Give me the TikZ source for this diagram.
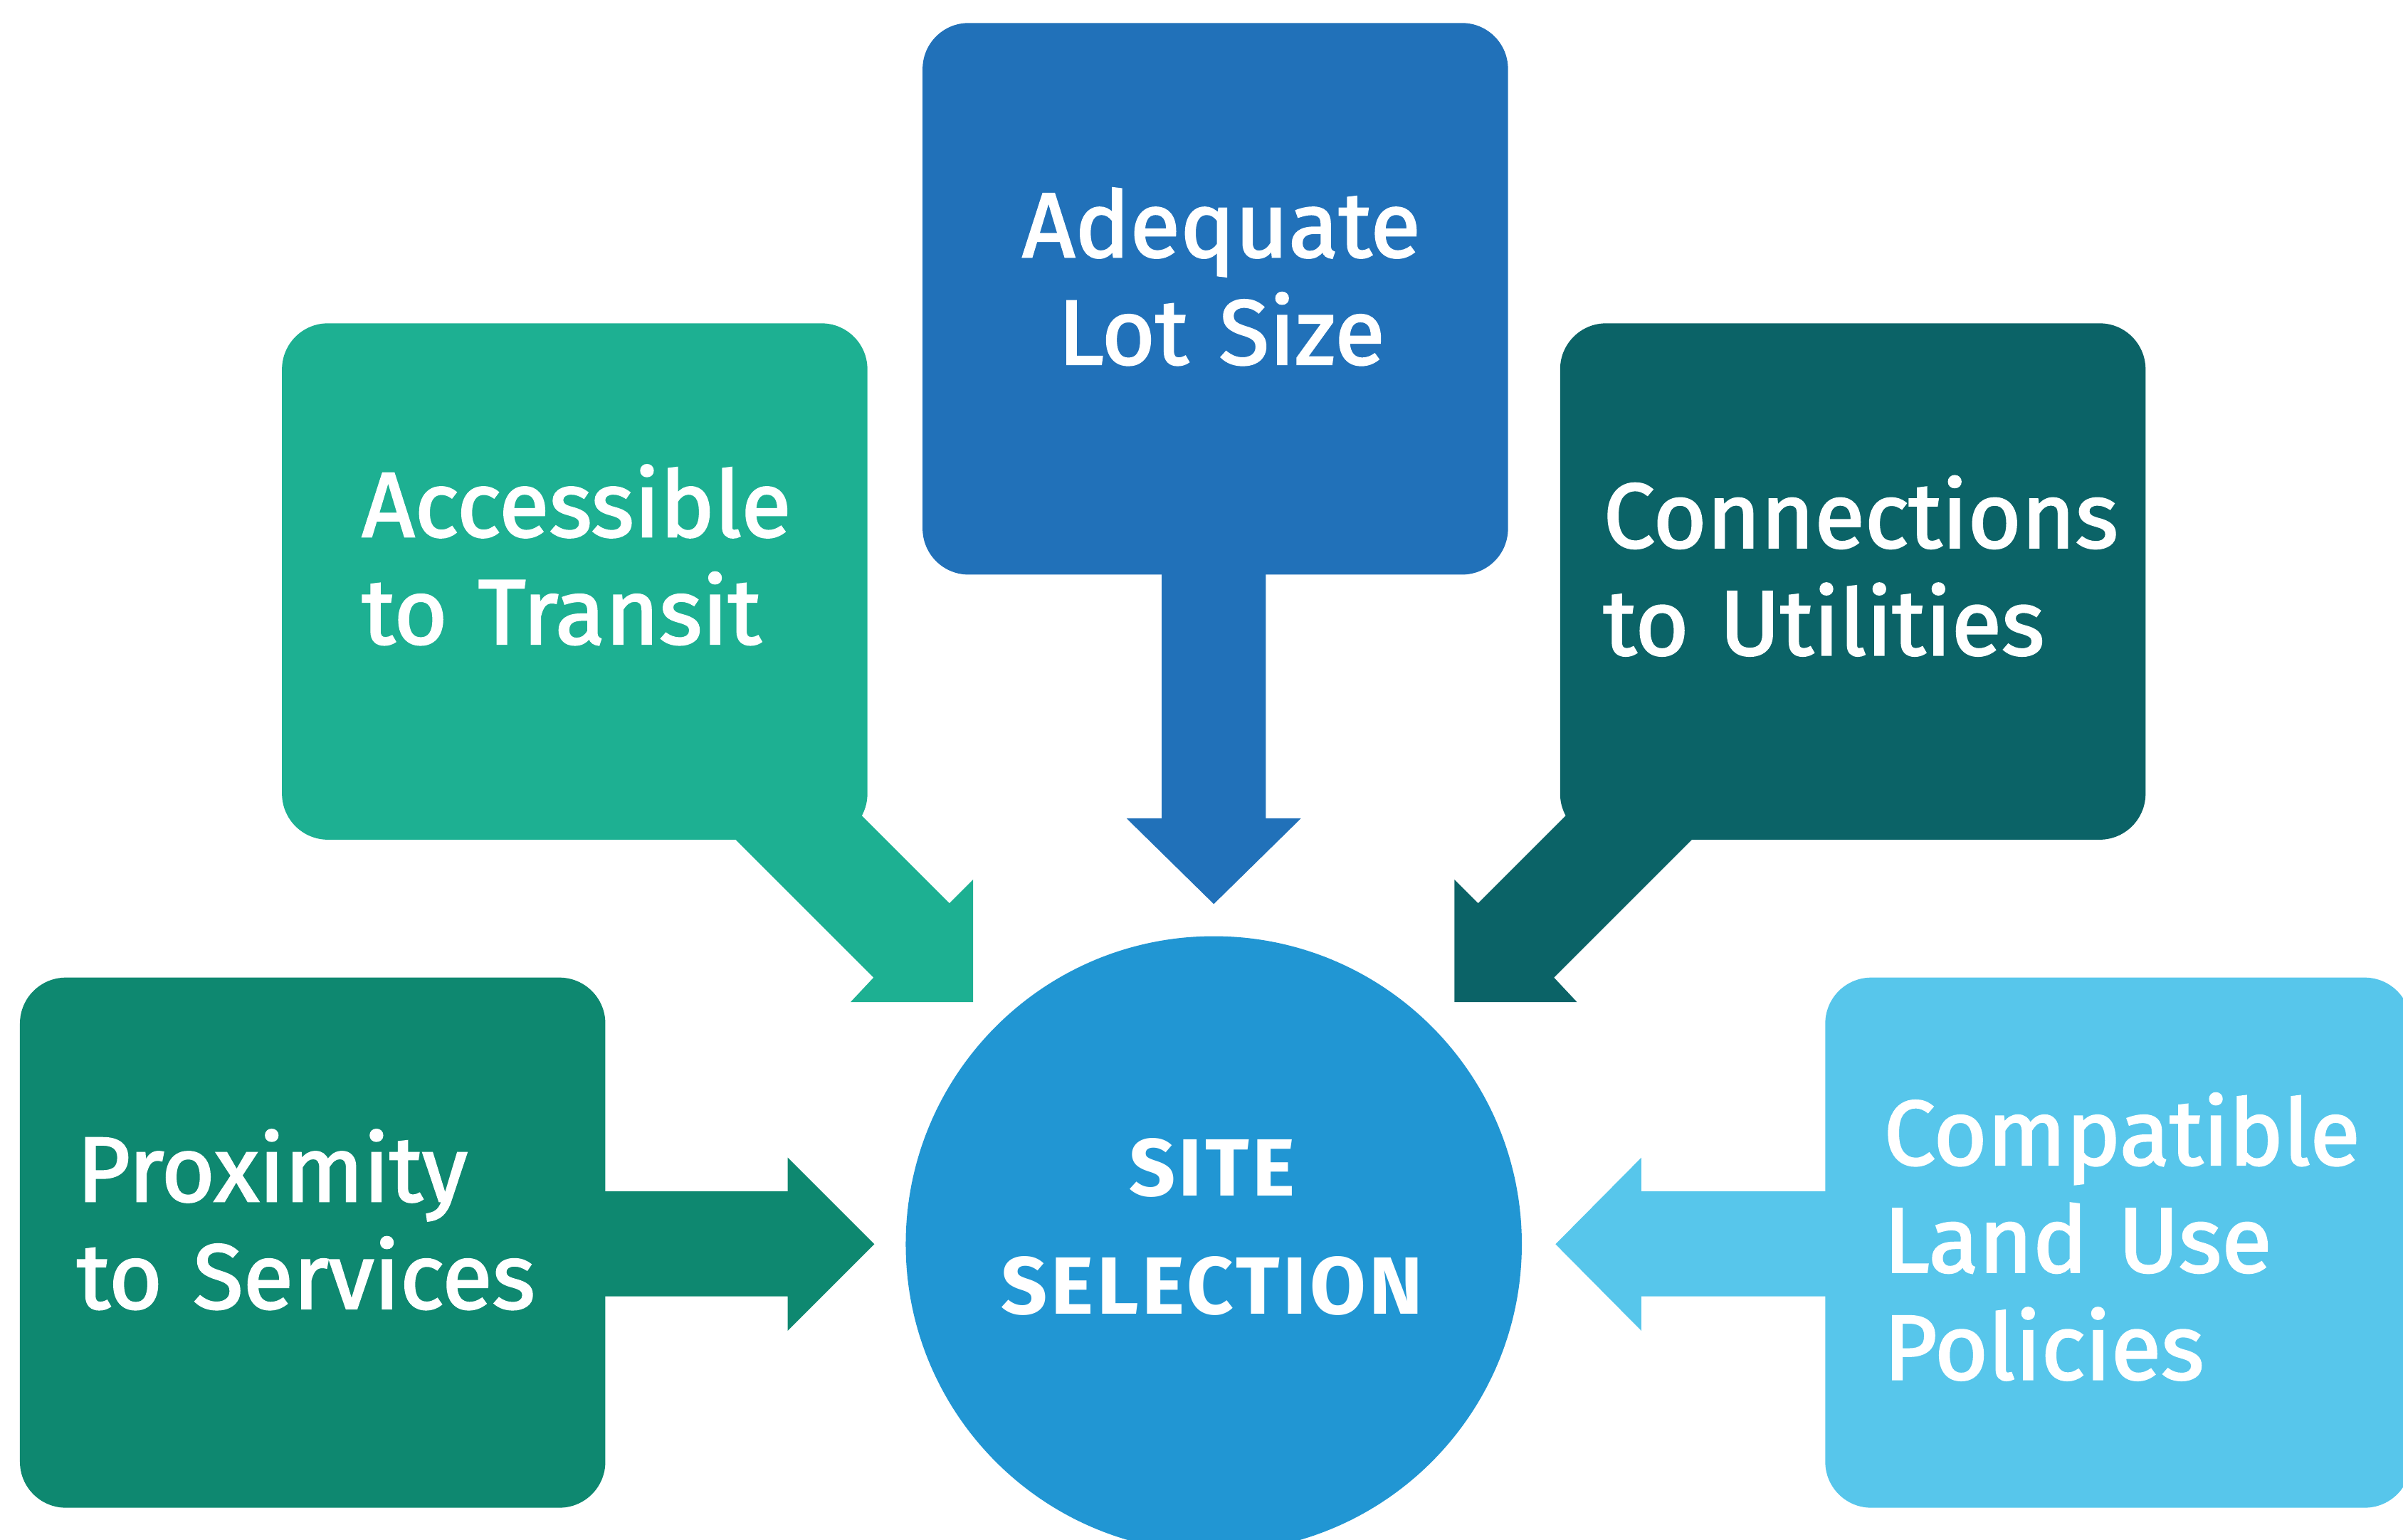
\documentclass[tikz,border=0pt]{standalone}
\usepackage{fontspec}
\setmainfont{Fira Sans}
\newfontfamily\lblfont{Fira Sans}[FakeBold=2]
\newfontfamily\sitefont{Fira Sans}[LetterSpace=4]
\definecolor{cTop}{HTML}{2171B9}
\definecolor{cAcc}{HTML}{1DB092}
\definecolor{cCon}{HTML}{0B6367}
\definecolor{cPro}{HTML}{0E8870}
\definecolor{cCom}{HTML}{57C6EB}
\definecolor{cSite}{HTML}{2196D3}
\begin{document}
\begin{tikzpicture}[x=1pt,y=-1pt,
  box/.style={rounded corners=30pt, minimum width=382pt, inner sep=0pt, draw=none},
  lbl/.style={text=white, inner sep=0pt, align=left, text width=420pt,
    font=\lblfont\fontsize{60}{70}\selectfont, anchor=base west},
  clbl/.style={text=white, inner sep=0pt, align=center, text width=380pt,
    font=\lblfont\fontsize{60}{70}\selectfont, anchor=base},
  sitelbl/.style={text=white, inner sep=0pt, align=center, text width=380pt,
    font=\sitefont\bfseries\fontsize{53}{77}\selectfont, anchor=base}]
\useasboundingbox (0,0) rectangle (1568,1005);
\clip (0,0) rectangle (1568,1005);
% boxes
\node[box, fill=cTop, minimum height=360pt] (adq) at (793,195) {};
\node[box, fill=cAcc, minimum height=337pt] (acc) at (375,379.5) {};
\node[box, fill=cCon, minimum height=337pt] (con) at (1209,379.5) {};
\node[box, fill=cPro, minimum height=346pt] (pro) at (204,811) {};
\node[box, fill=cCom, minimum height=346pt] (com) at (1382,811) {};
% centre circle
\node[circle, fill=cSite, minimum size=402pt, inner sep=0pt] (site) at (792,812) {};
% arrows
\fill[cTop] (758,360) -- (758,534) -- (735,534) -- (792,590) -- (849,534) -- (826,534) -- (826,360) -- cycle;
\fill[cAcc] (466,534) -- (570,638) -- (555,654) -- (635,654) -- (635,574) -- (619.5,589.5) -- (515,485) -- cycle;
\fill[cCon] (1118,534) -- (1014,638) -- (1029,654) -- (949,654) -- (949,574) -- (964.5,589.5) -- (1069,485) -- cycle;
\fill[cPro] (380,777.5) -- (514,777.5) -- (514,755.5) -- (570.5,812) -- (514,868.5) -- (514,846) -- (380,846) -- cycle;
\fill[cCom] (1205,777.5) -- (1071,777.5) -- (1071,755.5) -- (1015,812) -- (1071,868.5) -- (1071,846) -- (1205,846) -- cycle;
% labels
\node[clbl] (tadq) at (797,167.7) {Adequate\\Lot Size};
\node[lbl] (tacc) at (236,350.2) {Accessible\\to Transit};
\node[lbl] (tcon) at (1046,357.4) {Connections\\to Utilities};
\node[lbl] (tpro) at (50,784) {Proximity\\to Services};
\node[lbl] (tcom) at (1229,760.2) {Compatible\\Land Use\\Policies};
\node[sitelbl] (tsite) at (791,780.6) {SITE\\SELECTION};
\end{tikzpicture}
\end{document}
